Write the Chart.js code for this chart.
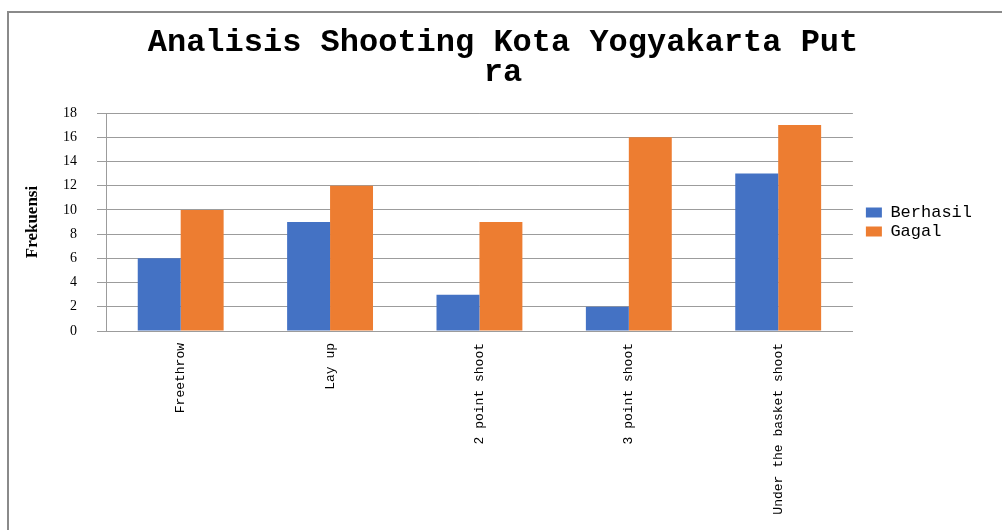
<!DOCTYPE html>
<html>
<head>
<meta charset="utf-8">
<script src="https://cdn.jsdelivr.net/npm/chart.js@4/dist/chart.umd.min.js"></script>
<style>
  html, body { margin: 0; padding: 0; background: #fff; }
  #frame {
    position: absolute; left: 7px; top: 11px; width: 1100px; height: 600px;
    border-top: 2px solid #8a8a8a; border-left: 2px solid #8a8a8a;
  }
  #chart { position: absolute; left: 0; top: 0; }
</style>
</head>
<body>
<div id="frame"></div>
<canvas id="chart" width="1002" height="530"></canvas>
<script>
const titleLines = ['Analisis Shooting Kota Yogyakarta Put', 'ra'];
const categories = ['Freethrow', 'Lay up', '2 point shoot', '3 point shoot', 'Under the basket shoot'];
const berhasil = [6, 9, 3, 2, 13];
const gagal = [10, 12, 9, 16, 17];
const yTicks = [0, 2, 4, 6, 8, 10, 12, 14, 16, 18];

const gridColor = '#9c9c9c';

new Chart(document.getElementById('chart'), {
    type: 'bar',
    data: {
        labels: categories,
        datasets: [
            { label: 'Berhasil', data: berhasil, backgroundColor: '#4472C4', yAxisID: 'y' },
            { label: 'Gagal', data: gagal, backgroundColor: '#ED7D31', yAxisID: 'y' }
        ]
    },
    options: {
        responsive: false,
        animation: false,
        devicePixelRatio: 1,
        categoryPercentage: 0.575,
        barPercentage: 1,
        layout: { padding: { left: 24, right: 20, top: 0, bottom: 0 } },
        plugins: {
            title: {
                display: true,
                text: titleLines,
                color: '#000',
                font: { family: 'Liberation Mono', size: 32, weight: 'bold', lineHeight: 0.9375 },
                padding: { top: 28, bottom: 25 }
            },
            legend: {
                position: 'right',
                fullSize: false,   // keep the legend beside the plot area only
                labels: {
                    boxWidth: 16,
                    boxHeight: 10,
                    padding: 2,
                    color: '#000',
                    font: { family: 'Liberation Mono', size: 17 }
                }
            },
            tooltip: { enabled: false }
        },
        scales: {
            x: {
                grid: { display: false, drawTicks: false },
                border: { display: true, color: gridColor },
                ticks: {
                    color: '#000',
                    font: { family: 'Liberation Mono', size: 13 },
                    minRotation: 90,
                    maxRotation: 90,
                    autoSkip: false,
                    padding: 12
                },
                afterFit(scale) { scale.height = 199; }
            },
            y: {
                min: 0,
                max: 18,
                afterBuildTicks(scale) { scale.ticks = yTicks.map(v => ({ value: v })); },
                grid: { color: gridColor, tickLength: 9 },
                border: { display: true, color: gridColor },
                ticks: {
                    color: '#000',
                    font: { family: 'Liberation Serif', size: 14 },
                    padding: 20
                },
                title: {
                    display: true,
                    text: 'Frekuensi',
                    color: '#000',
                    font: { family: 'Liberation Serif', size: 17, weight: 'bold', lineHeight: 1 },
                    padding: 0
                },
                afterFit(scale) { scale.width = 82; }
            },
            // empty spacer between plot and legend
            spacer: {
                position: 'right',
                display: true,
                grid: { display: false },
                border: { display: false },
                ticks: { display: false },
                afterFit(scale) { scale.width = 11; }
            }
        }
    }
});
</script>
</body>
</html>
